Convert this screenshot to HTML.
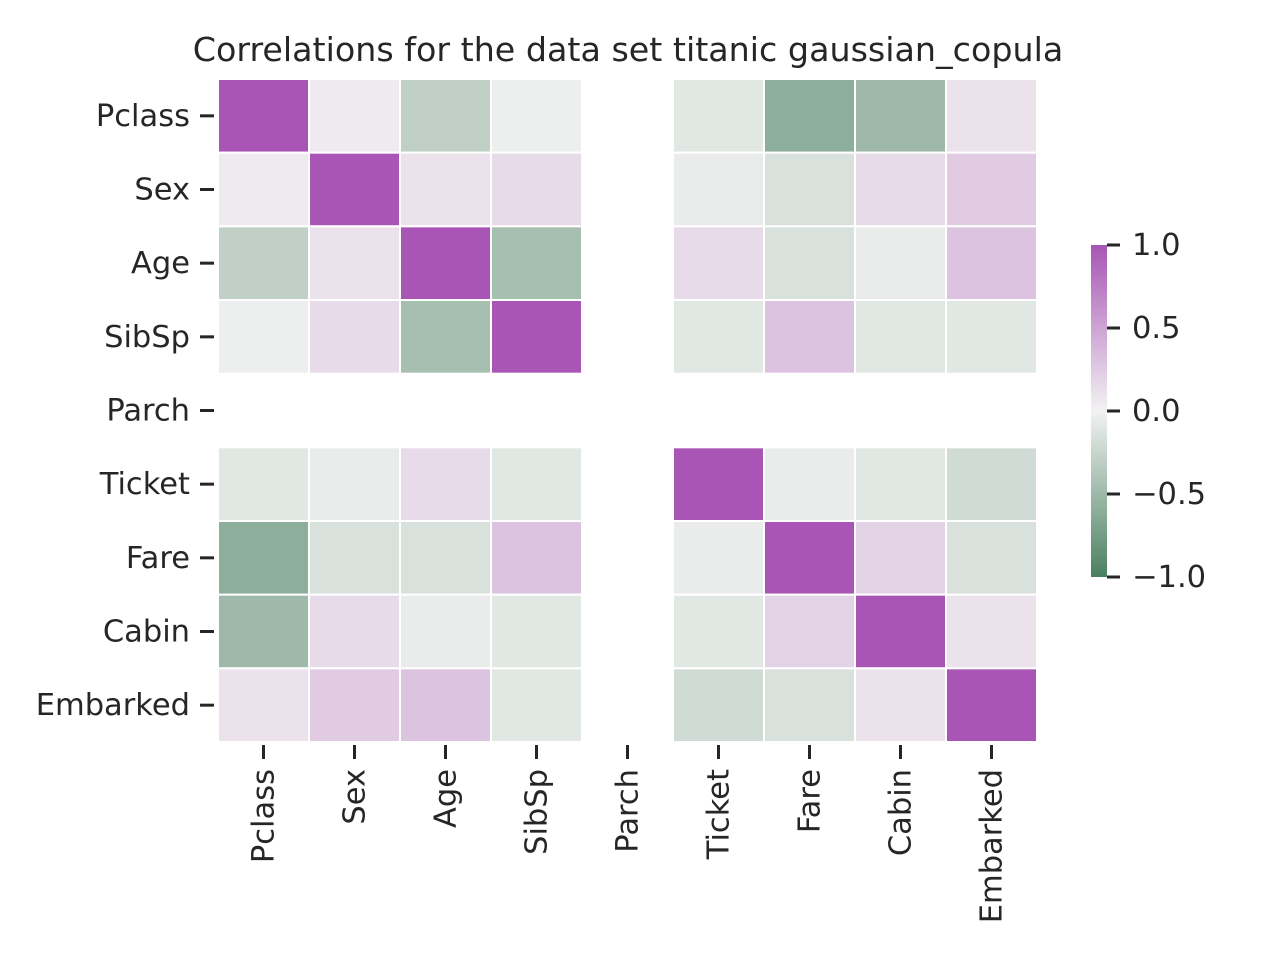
<!DOCTYPE html>
<html><head><meta charset="utf-8"><style>
body{margin:0;background:#fff;}
svg text{font-family:"DejaVu Sans","Liberation Sans",sans-serif;fill:#262626;}
</style></head><body>
<svg id="chart" width="1280" height="960" xmlns="http://www.w3.org/2000/svg">
<defs><linearGradient id="cbg" x1="0" y1="1" x2="0" y2="0">
<stop offset="0" stop-color="#4a8060"/><stop offset="0.5" stop-color="#f2f2f2"/><stop offset="1" stop-color="#a855b5"/>
</linearGradient></defs>
<text x="628" y="61" font-size="33.3" text-anchor="middle">Correlations for the data set titanic gaussian_copula</text>
<g id="cells"></g>
<g id="ylabels"></g>
<g id="xlabels"></g>
<rect x="1091" y="245" width="16" height="332" fill="url(#cbg)"/>
<g id="cbticks"></g>
</svg>
<script>
const labels = ["Pclass","Sex","Age","SibSp","Parch","Ticket","Fare","Cabin","Embarked"];
const rowPclass   = [1, 0.05, -0.3, -0.03, null, -0.1, -0.6, -0.5, 0.1];
const rowSex      = [0.05, 1, 0.1, 0.15, null, -0.05, -0.15, 0.15, 0.25];
const rowAge      = [-0.3, 0.1, 1, -0.45, null, 0.15, -0.15, -0.05, 0.3];
const rowSibSp    = [-0.03, 0.15, -0.45, 1, null, -0.1, 0.3, -0.1, -0.1];
const rowParch    = [null, null, null, null, null, null, null, null, null];
const rowTicket   = [-0.1, -0.05, 0.15, -0.1, null, 1, -0.05, -0.1, -0.2];
const rowFare     = [-0.6, -0.15, -0.15, 0.3, null, -0.05, 1, 0.2, -0.15];
const rowCabin    = [-0.5, 0.15, -0.05, -0.1, null, -0.1, 0.2, 1, 0.1];
const rowEmbarked = [0.1, 0.25, 0.3, -0.1, null, -0.2, -0.15, 0.1, 1];
const cbTicks = [1.0, 0.5, 0.0, -0.5, -1.0];
const cbTickLabels = ["1.0","0.5","0.0","\u22120.5","\u22121.0"];
const rows = [rowPclass,rowSex,rowAge,rowSibSp,rowParch,rowTicket,rowFare,rowCabin,rowEmbarked];

const NS="http://www.w3.org/2000/svg";
const X0=218, X1=1037, Y0=79, Y1=742;
const cw=(X1-X0)/labels.length, ch=(Y1-Y0)/labels.length;
const xPos=i=>X0+i*cw, yPos=i=>Y0+i*ch;
const cbY=v=>411-v*166;
const FS=30.5;
function color(v){
  const c=[242,242,242], n=[74,128,96], p=[168,85,181];
  const t=Math.min(1,Math.abs(v)), e=v<0?n:p;
  return "rgb("+c.map((x,k)=>Math.round(x+(e[k]-x)*t)).join(",")+")";
}
function mk(tag,attrs,parent){const el=document.createElementNS(NS,tag);for(const k in attrs)el.setAttribute(k,attrs[k]);parent.appendChild(el);return el;}
const cells=document.getElementById("cells");
rows.forEach((r,i)=>r.forEach((v,j)=>{
  if(v===null)return;
  const el=mk("rect",{x:xPos(j),y:yPos(i),width:cw,height:ch,fill:color(v),stroke:"#fff","stroke-width":2},cells);
  
  
}));
const yl=document.getElementById("ylabels"), xl=document.getElementById("xlabels");
labels.forEach((l,i)=>{
  const cy=yPos(i)+ch/2;
  mk("line",{x1:200,x2:214,y1:cy,y2:cy,stroke:"#262626","stroke-width":3},yl);
  const t=mk("text",{x:190,y:cy+10,"font-size":FS,"text-anchor":"end"},yl);
  t.textContent=l;
  
  
  const cx=xPos(i)+cw/2;
  mk("line",{x1:cx,x2:cx,y1:745,y2:759,stroke:"#262626","stroke-width":3},xl);
  const u=mk("text",{x:0,y:0,"font-size":FS,"text-anchor":"end",transform:"translate("+(cx+10)+",769) rotate(-90)"},xl);
  u.textContent=l;
  
  
});
const cb=document.getElementById("cbticks");
cbTicks.forEach((v,i)=>{
  const y=cbY(v);
  mk("line",{x1:1107,x2:1120,y1:y,y2:y,stroke:"#262626","stroke-width":3},cb);
  const t=mk("text",{x:1132,y:y+10,"font-size":FS},cb);
  t.textContent=cbTickLabels[i];
  
  
});
</script>
</body></html>
